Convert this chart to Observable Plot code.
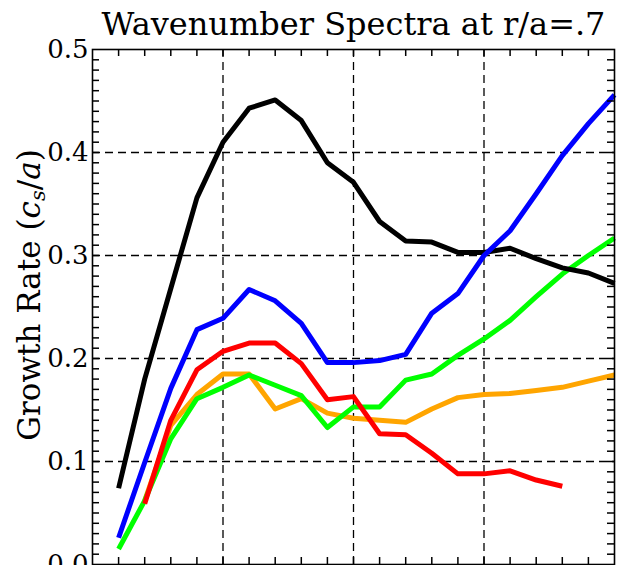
<!DOCTYPE html>
<html>
<head>
<meta charset="utf-8">
<script src="https://cdn.jsdelivr.net/npm/d3@7"></script>
<script src="https://cdn.jsdelivr.net/npm/@observablehq/plot@0.6"></script>
<style>
  html, body { margin: 0; padding: 0; background: #fff; overflow: hidden; }
</style>
</head>
<body>
<div id="chart"></div>
<script>
// Wavenumber grid (k_y rho_s) and linear growth rates, one array per run
const ky = [0.1, 0.2, 0.3, 0.4, 0.5, 0.6, 0.7, 0.8, 0.9, 1.0,
            1.1, 1.2, 1.3, 1.4, 1.5, 1.6, 1.7, 1.8, 1.9, 2.0];

const gammaBlack  = [0.074, 0.180, 0.268, 0.356, 0.410, 0.443, 0.451, 0.431, 0.390, 0.371,
                     0.333, 0.314, 0.313, 0.303, 0.303, 0.307, 0.297, 0.288, 0.283, 0.273];
const gammaBlue   = [0.026, 0.099, 0.171, 0.228, 0.239, 0.267, 0.256, 0.234, 0.196, 0.196,
                     0.198, 0.204, 0.244, 0.263, 0.300, 0.324, 0.360, 0.397, 0.428, 0.456];
const gammaGreen  = [0.015, 0.062, 0.122, 0.161, 0.172, 0.184, 0.174, 0.164, 0.133, 0.153,
                     0.153, 0.179, 0.185, 0.203, 0.219, 0.237, 0.260, 0.282, 0.300, 0.317];
const gammaRed    = [null, 0.059, 0.140, 0.189, 0.207, 0.215, 0.215, 0.195, 0.160, 0.163,
                     0.127, 0.126, 0.108, 0.088, 0.088, 0.091, 0.082, 0.076, null, null];
const gammaOrange = [null, 0.062, 0.135, 0.165, 0.185, 0.185, 0.151, 0.161, 0.147, 0.142,
                     0.140, 0.138, 0.151, 0.162, 0.165, 0.166, 0.169, 0.172, 0.178, 0.184];

// Drawing order: later entries sit on top
const series = [
  {values: gammaOrange, color: "#ffa500"},
  {values: gammaGreen,  color: "#00ff00"},
  {values: gammaRed,    color: "#ff0000"},
  {values: gammaBlack,  color: "#000000"},
  {values: gammaBlue,   color: "#0000ff"}
];

const yLabelTicks = [0, 0.1, 0.2, 0.3, 0.4, 0.5];
const yMinorTicks = d3.range(1, 50).map(i => i / 100);
const xMinorTicks = d3.range(1, 20).map(i => i / 10);
const xGrid = [0.5, 1.0, 1.5];
const yGrid = [0.1, 0.2, 0.3, 0.4];

const titleText = "Wavenumber Spectra at r/a=.7";
const yLabelText = "Growth Rate (cs/a)";

// Frame geometry
const W = 635, H = 600;
const mL = 92, mR = 21, mT = 49, mB = 36;
const innerW = W - mL - mR, innerH = H - mT - mB;
const tickLen = 7;

const dash = {stroke: "black", strokeOpacity: 1, strokeWidth: 1.3, strokeDasharray: "8,5"};
const tick = {stroke: "black", strokeWidth: 1.5};

const chart = Plot.plot({
  width: W,
  height: H,
  marginLeft: mL,
  marginRight: mR,
  marginTop: mT,
  marginBottom: mB,
  style: {fontFamily: "'DejaVu Serif', serif", background: "white", color: "black"},
  x: {domain: [0, 2], axis: null},
  y: {domain: [0, 0.5]},
  marks: [
    Plot.gridX(xGrid, dash),
    Plot.gridY(yGrid, dash),
    ...series.map(s => Plot.line(ky.map((k, i) => [k, s.values[i]]), {
      x: d => d[0], y: d => d[1],
      stroke: s.color, strokeWidth: 5,
      strokeLinecap: "butt", strokeLinejoin: "round"
    })),
    // short inward ticks on all four sides
    Plot.ruleX(xMinorTicks, {x: d => d, insetBottom: innerH - tickLen, ...tick}),
    Plot.ruleX(xMinorTicks, {x: d => d, insetTop: innerH - tickLen, ...tick}),
    Plot.ruleY(yMinorTicks, {y: d => d, insetRight: innerW - tickLen, ...tick}),
    Plot.ruleY(yMinorTicks, {y: d => d, insetLeft: innerW - tickLen, ...tick}),
    Plot.axisY(yLabelTicks, {
      anchor: "left", tickSize: 0, tickPadding: 4, label: null,
      tickFormat: d => d.toFixed(1), fontSize: 26, fill: "black"
    }),
    Plot.frame({stroke: "black", strokeWidth: 1.6}),
    Plot.text([titleText], {
      text: d => d, frameAnchor: "top", lineAnchor: "bottom",
      dy: -15, fontSize: 32, fill: "black"
    }),
    Plot.text([yLabelText], {
      text: d => d, frameAnchor: "left", textAnchor: "middle", rotate: -90,
      dx: -62, dy: -12, fontSize: 31, fill: "black"
    })
  ]
});

// Typeset the units of the y label: italic c with subscript s, over italic a
d3.select(chart).selectAll("text").each(function () {
  if (this.textContent !== yLabelText) return;
  const t = d3.select(this).text("");
  t.append("tspan").text("Growth Rate (");
  t.append("tspan").attr("font-style", "italic").text("c");
  t.append("tspan").attr("font-style", "italic").attr("font-size", "21").attr("dy", "5").text("s");
  t.append("tspan").attr("dy", "-5").text("/");
  t.append("tspan").attr("font-style", "italic").text("a");
  t.append("tspan").text(")");
});

document.getElementById("chart").appendChild(chart);
</script>
</body>
</html>
